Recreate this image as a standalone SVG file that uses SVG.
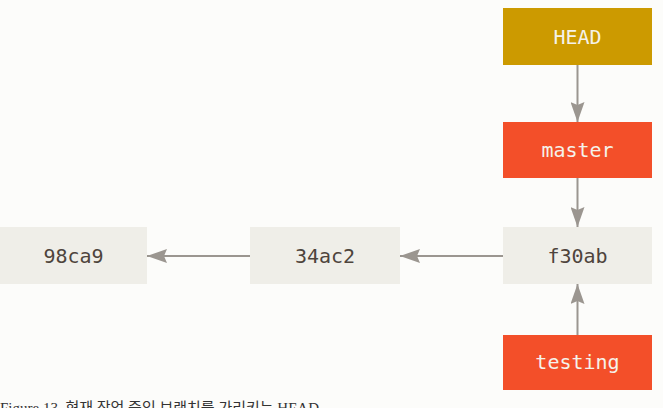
<svg xmlns="http://www.w3.org/2000/svg" width="663" height="408" viewBox="0 0 663 408">
<defs>
<marker id="ah" markerWidth="20" markerHeight="14" viewBox="0 0 20 14" refX="20" refY="7" orient="auto" markerUnits="userSpaceOnUse">
<path d="M0,0 L20,7 L0,14 L3,7 Z" fill="#9b9690"/>
</marker>
<style>
.lbl{font-family:"DejaVu Sans Mono","Liberation Mono",monospace;font-size:20px;text-anchor:middle;dominant-baseline:central}
.light rect{fill:#efeee8}
.light text{fill:#4e443c}
.red rect{fill:#f34f29}
.gold rect{fill:#cc9a00}
.red text,.gold text{fill:#f5f2ea}
.conn line{stroke:#9b9690;stroke-width:2;marker-end:url(#ah)}
.cap{font-family:"Liberation Serif","Noto Sans CJK KR",serif;font-size:15px;fill:#333}
</style>
</defs>
<rect width="663" height="408" fill="#fcfcfa"/>
<g id="head" class="gold"><rect x="503" y="8" width="149" height="57"/><text class="lbl" x="577.5" y="37">HEAD</text></g>
<g id="master" class="red"><rect x="503" y="122" width="149" height="56"/><text class="lbl" x="577.5" y="150">master</text></g>
<g id="f30ab" class="light"><rect x="503" y="227" width="149" height="57"/><text class="lbl" x="577.5" y="256">f30ab</text></g>
<g id="testing" class="red"><rect x="503" y="335" width="149" height="55"/><text class="lbl" x="577.5" y="362">testing</text></g>
<g id="c34ac2" class="light"><rect x="250" y="227" width="150" height="57"/><text class="lbl" x="325" y="256">34ac2</text></g>
<g id="c98ca9" class="light"><rect x="0" y="227" width="147" height="57"/><text class="lbl" x="73.5" y="256">98ca9</text></g>
<g id="connectors" class="conn">
<line x1="577.5" y1="65" x2="577.5" y2="122"/>
<line x1="577.5" y1="178" x2="577.5" y2="227"/>
<line x1="577.5" y1="335" x2="577.5" y2="284"/>
<line x1="503" y1="256" x2="400" y2="256"/>
<line x1="250" y1="256" x2="147" y2="256"/>
</g>
<text class="cap" x="0" y="413">Figure 13. 현재 작업 중인 브랜치를 가리키는 HEAD</text>
</svg>
